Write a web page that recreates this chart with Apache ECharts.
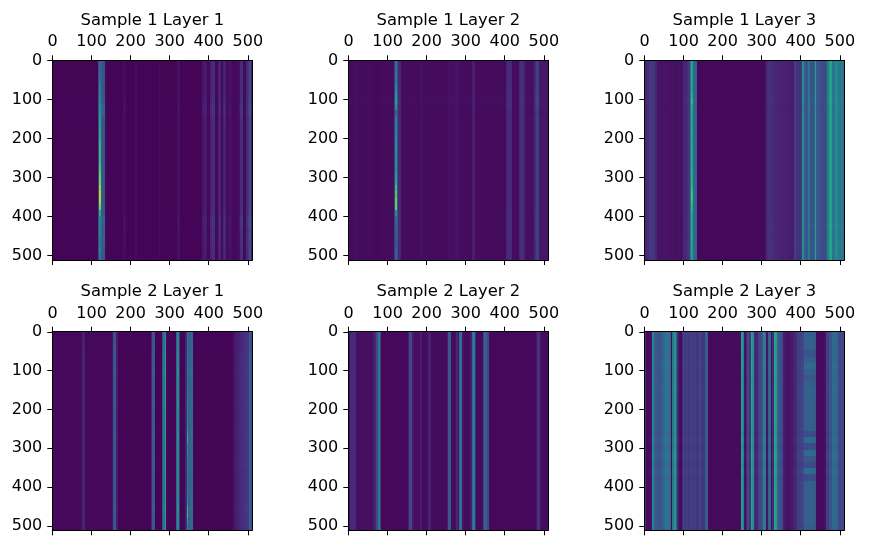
<!DOCTYPE html>
<html><head><meta charset="utf-8">
<style>html,body{margin:0;padding:0;background:#fff}#c{width:870px;height:553px}</style>
<script src="https://cdn.jsdelivr.net/npm/echarts@6/dist/echarts.min.js"></script>
</head><body><div id="c"></div>
<script>
// Each list: estimated brightness (0-100) of 128 columns, 4 matrix units wide.
const s1l1Cols=[
1,1,1,1,1,1,1,1,1,1,1,1,1,1,1,1,
1,1,1,1,1,1,1,1,1,1,1,1,1,22,60,28,
26,26,2,1,1,1,1,1,1,1,1,1,1,4,3,1,
1,1,1,1,1,3,1,1,1,1,1,1,1,1,1,1,
1,1,1,1,3,1,1,1,1,1,1,1,1,1,1,1,
4,4,1,1,1,1,1,1,1,1,1,1,1,1,1,1,
6,8,7,2,2,9,13,12,2,2,8,10,2,9,10,2,
3,6,4,2,2,2,2,4,12,13,2,2,11,15,21,7];
const s1l2Cols=[
3,3,3,3,4,4,3,3,3,3,3,3,3,3,3,3,
2,2,2,2,3,3,3,3,3,3,3,3,3,16,46,24,
12,10,3,3,3,3,3,3,3,3,3,3,3,3,4,4,
3,3,3,3,3,3,3,3,3,3,3,3,3,3,3,3,
4,4,4,4,5,5,5,3,3,3,3,3,3,3,3,8,
8,4,3,3,3,3,3,3,3,3,3,3,3,3,3,3,
3,3,3,3,3,10,13,12,11,3,3,3,3,10,13,14,
10,4,4,4,4,4,4,12,18,18,6,6,6,6,6,6];
const s1l3Cols=[
10,10,12,16,16,16,16,10,5,5,5,5,5,5,5,4,
5,4,5,4,5,4,5,4,5,10,10,12,16,40,58,32,
32,30,2,2,2,2,2,2,2,2,2,2,2,2,2,2,
2,2,2,2,2,2,2,2,2,2,2,2,2,2,2,2,
2,2,2,2,2,2,2,2,2,2,2,2,2,5,11,13,
14,13,12,11,11,10,10,9,9,9,9,9,8,8,8,8,
18,14,14,14,16,48,28,28,26,40,24,24,28,56,28,26,
26,22,22,22,28,40,58,58,38,38,50,46,40,40,40,38];
const s2l1Cols=[
2,2,2,2,2,2,2,2,2,2,2,2,2,2,2,2,
2,2,3,9,10,2,2,2,2,2,2,2,2,2,2,2,
2,2,2,2,2,2,5,26,28,8,1,1,1,1,1,1,
1,1,1,1,1,1,1,1,1,1,1,1,1,1,1,10,
28,26,1,1,1,1,26,38,55,2,1,1,1,1,1,30,
48,15,1,1,1,10,42,30,34,34,2,1,1,1,1,1,
1,1,1,1,1,1,1,1,1,1,1,1,1,1,1,1,
1,1,1,3,7,8,9,10,12,12,14,14,16,18,28,22];
const s2l2Cols=[
5,10,12,12,11,4,4,4,4,4,4,4,4,4,4,4,
8,12,22,40,20,2,2,2,2,2,2,2,2,2,2,2,
2,2,2,2,2,2,8,22,20,7,4,4,4,4,8,3,
3,3,3,9,8,3,3,3,3,3,3,3,3,3,3,8,
28,26,3,3,3,10,4,35,38,5,3,3,3,3,8,36,
42,12,3,3,3,3,20,30,30,20,4,2,2,2,2,2,
2,2,2,2,2,2,2,2,2,2,2,2,2,2,2,2,
2,2,2,2,2,2,2,2,6,14,14,4,3,3,3,3];
const s2l3Cols=[
15,3,3,4,4,45,30,28,27,26,27,28,34,38,38,38,
34,2,40,52,34,10,3,2,14,18,16,18,16,18,18,16,
18,15,16,20,16,15,14,30,28,3,2,2,3,3,3,3,
3,3,3,3,3,3,3,3,3,3,3,3,3,3,55,42,
5,10,22,14,60,50,12,10,10,20,20,25,44,38,5,30,
32,4,12,58,55,30,26,24,22,8,6,5,5,6,7,8,
10,12,18,18,20,20,30,30,30,30,30,30,29,28,3,3,
3,3,3,4,20,18,25,25,34,34,34,32,22,22,22,20];

// Estimated row brightness: 32 rows, 16 matrix units tall.
const s1l1Rows=[1,1,1,1,1,1,1.08,1.2,1.15,1.03,1,1,1,1,1,1,1,1,1,1,1,1,1,1,1.05,1.2,1.2,1.1,1.15,1.1,1.05,1.02];
const s1l2Rows=[1,1,1,1,1,1.05,1.1,1.05,.95,1,1,1,1,1,1,1,1,1,1,1,1,1,1,1,1.05,1.05,1.05,1.05,1.05,1,1,1];
const s1l3Rows=[1,1,1,1,1,1,1.03,.97,1,1,1,1,1,1,1,1,1,1,1,1,1,1,1,1,1,1,1.03,1,1,1.03,1.03,1];
const s2l1Rows=[.9,.95,.95,1,1,1,1.05,1,1,1,1,1.05,1,1,1,1,1.05,1,1,1,1,1.05,1,1,1,1,1,1,1.05,1,1,1];
const s2l2Rows=[1,1,1,1,1,1,1,1,1,1,1,1,1,1,1,1,1,1,1,1,1,1,1,1,1,1,1,1,1,1,1,1];
const s2l3Rows=[1,1,1,.98,1,1.03,1,.98,1,1.02,1,1,1,1,1,1,.96,1.03,.96,1.03,1.02,.96,1.03,.96,1,1,1,1,1,1,1,.98];

// The narrow bright line of a panel changes along its length.
const s1l1Peak=[32,32,35,38,42,46,46,48,52,55,58,60,62,65,66,66,68,72,78,78,84,88,86,80,60,46,42,46,40,40,44,36];
const s1l2Peak=[38,38,40,40,48,52,56,50,30,42,46,46,48,50,50,48,50,50,56,60,68,72,78,76,48,34,30,30,28,26,30,30];
const s1l3Peak=[58,58,58,58,58,62,66,60,58,58,58,60,58,58,60,60,60,60,62,62,66,70,68,64,60,58,58,60,60,56,56,56];
const s2l1Peak=[40,40,40,40,42,42,42,42,44,44,46,46,46,46,46,50,62,66,50,48,46,44,44,44,44,44,46,48,66,70,54,46];

// Rows of the dim band at 408-439 in Sample 2 Layer 3.
const s2l3BandCols=[102,103,104,105,106,107,108,109];
const s2l3BandRows=[1,1,1,.85,1,1.15,1,.9,1,1.05,1,1,1,1,1,1,.75,1.15,.75,1.15,.9,.75,1.15,.75,1,1,1,1,1,1,1,.95];

const titles=['Sample 1 Layer 1','Sample 1 Layer 2','Sample 1 Layer 3','Sample 2 Layer 1','Sample 2 Layer 2','Sample 2 Layer 3'];
const colsList=[s1l1Cols,s1l2Cols,s1l3Cols,s2l1Cols,s2l2Cols,s2l3Cols];
const rowsList=[s1l1Rows,s1l2Rows,s1l3Rows,s2l1Rows,s2l2Rows,s2l3Rows];
const peakList=[s1l1Peak,s1l2Peak,s1l3Peak,s2l1Peak,null,null];
const peakCol=[30,30,30,86,null,null];
const tickValues=[0,100,200,300,400,500];
const viridis=['#440154','#482475','#414487','#355f8d','#2a788e','#21918c','#22a884','#44bf70','#7ad151','#bddf26','#fde725'];

const lefts=[52.3,348.3,644.3], tops=[60.3,331.7];
const W=200, H=[199.7,198.6];
const font='"DejaVu Sans"';
const option={animation:false,backgroundColor:'#fff',title:[],grid:[],xAxis:[],yAxis:[],series:[]};

function cell(params,api){
 const col=api.value(0), row=api.value(1);
 const a=api.coord([col*4-0.5,row*16-0.5]), b=api.coord([col*4+3.5,row*16+15.5]);
 const x0=Math.round(a[0]),y0=Math.round(a[1]),x1=Math.round(b[0]),y1=Math.round(b[1]);
 return {type:'rect',shape:{x:x0,y:y0,width:x1-x0,height:y1-y0},
  style:{fill:echarts.color.lerp(Math.min(1,api.value(2)/100),viridis)}};
}

titles.forEach((t,i)=>{
 const c=i%3,r=i<3?0:1,l=lefts[c],tp=tops[r],h=H[r];
 option.grid.push({left:l,top:tp,width:W,height:h});
 option.title.push({text:t,left:l+W/2,top:tp-48,padding:0,textAlign:'center',textStyle:{fontFamily:font,fontSize:16.4,fontWeight:'normal',color:'#000'}});
 const line={show:true,onZero:false,lineStyle:{color:'#000',width:1}};
 const ticks=(show)=>({show,length:5,inside:false,customValues:tickValues,lineStyle:{color:'#000',width:1}});
 option.xAxis.push(
  {type:'value',gridIndex:i,position:'top',min:-0.5,max:511.5,z:5,axisLine:line,splitLine:{show:false},axisTick:ticks(true),
   axisLabel:{show:true,customValues:tickValues,fontFamily:font,fontSize:16,color:'#000',margin:10}},
  {type:'value',gridIndex:i,position:'bottom',min:-0.5,max:511.5,z:5,axisLine:line,splitLine:{show:false},axisTick:ticks(true),axisLabel:{show:false}});
 option.yAxis.push(
  {type:'value',gridIndex:i,position:'left',inverse:true,min:-0.5,max:511.5,z:5,axisLine:line,splitLine:{show:false},axisTick:ticks(true),
   axisLabel:{show:true,customValues:tickValues,fontFamily:font,fontSize:16,color:'#000',margin:10}},
  {type:'value',gridIndex:i,position:'right',inverse:true,min:-0.5,max:511.5,z:5,axisLine:line,splitLine:{show:false},axisTick:{show:false},axisLabel:{show:false}});
 const data=[];
 rowsList[i].forEach((g,y)=>colsList[i].forEach((v,x)=>{
  let val=(peakList[i]&&x===peakCol[i])?peakList[i][y]:v*g;
  if(i===5&&s2l3BandCols.includes(x))val=v*s2l3BandRows[y];
  data.push([x,y,val]);
 }));
 option.series.push({type:'custom',coordinateSystem:'cartesian2d',xAxisIndex:2*i,yAxisIndex:2*i,renderItem:cell,
  encode:{x:0,y:1},data,progressive:0,silent:true,z:2,clip:true});
});
const chart=echarts.init(document.getElementById('c'),null,{renderer:'canvas'});
chart.setOption(option);
</script></body></html>
